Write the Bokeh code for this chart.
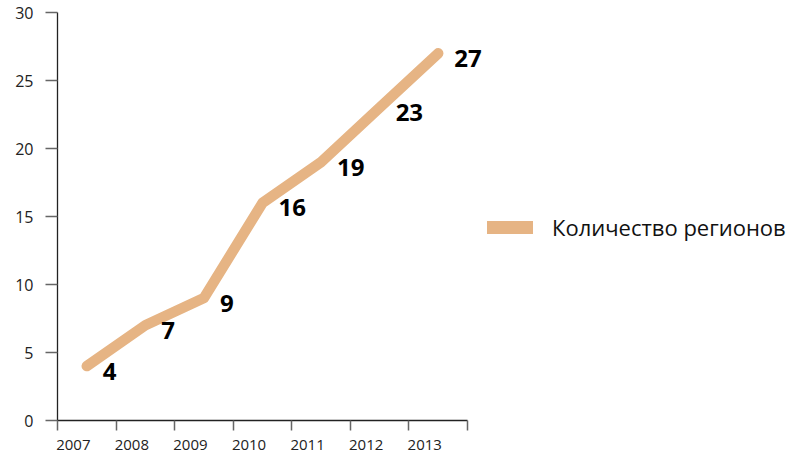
from bokeh.plotting import figure
from bokeh.models import (Range1d, FixedTicker, ColumnDataSource, Legend, LegendItem)
from bokeh.core.properties import value
from bokeh.embed import file_html
from bokeh.resources import INLINE

years = ["2007", "2008", "2009", "2010", "2011", "2012", "2013"]
regions = [4, 7, 9, 16, 19, 23, 27]
y_ticks = [0, 5, 10, 15, 20, 25, 30]
series_name = "Количество регионов"

n = len(years)
centers = [i + 0.5 for i in range(n)]
labels = [str(v) for v in regions]

FONT = "Open Sans"
LINE_COLOR = "#E6B484"

W, H = 790, 454
left, top, bottom = 57, 12, 34
frame_w = W - left
axis_px = 410.0
x_end = n * frame_w / axis_px

p = figure(width=W, height=H, output_backend="svg", toolbar_location=None,
           x_range=Range1d(0, x_end), y_range=Range1d(y_ticks[0], y_ticks[-1]),
           min_border_left=left, min_border_right=0, min_border_top=top,
           min_border_bottom=bottom)
p.outline_line_color = None
p.xgrid.visible = False
p.ygrid.visible = False
p.background_fill_color = "white"
p.border_fill_color = "white"

src = ColumnDataSource(dict(x=centers, y=regions, label=labels))
line_r = p.line("x", "y", source=src, line_color=LINE_COLOR, line_width=10.5,
                line_cap="round", line_join="round")
p.text("x", "y", text="label", source=src, text_font=value(FONT),
       text_font_style="bold", text_font_size="24px", text_color="#000000",
       text_align="left", text_baseline="middle", x_offset=16, y_offset=5)

# legend swatch (thicker line, no visible data)
leg_r = p.line(x=[centers[0]], y=[float("nan")], line_color=LINE_COLOR,
               line_width=13, line_cap="round", line_join="round")
legend = Legend(items=[LegendItem(label=series_name, renderers=[leg_r])],
                location=(430, 178), orientation="vertical",
                glyph_width=46, glyph_height=20, label_height=20,
                label_standoff=19, padding=0, margin=0, spacing=0,
                label_text_font=FONT, label_text_font_size="22px",
                label_text_color="#111111", border_line_color=None,
                background_fill_alpha=0)
p.add_layout(legend)

# x axis: boundary ticks (minor) + offset labels (major)
xa = p.xaxis[0]
maj = [round(i + 0.27, 2) for i in range(n)]
xa.ticker = FixedTicker(ticks=maj, minor_ticks=list(range(n + 1)))
xa.major_label_overrides = {m: y for m, y in zip(maj, years)}
xa.bounds = (0, n)
xa.major_tick_line_color = None
xa.major_tick_out = 10
xa.major_tick_in = 0
xa.minor_tick_out = 10
xa.minor_tick_in = 0
xa.minor_tick_line_color = "#666666"
xa.minor_tick_line_width = 1.5
xa.axis_line_color = "#222222"
xa.axis_line_width = 1.3
xa.major_label_standoff = 9
xa.major_label_text_font = FONT
xa.major_label_text_font_size = "15px"
xa.major_label_text_color = "#222222"

ya = p.yaxis[0]
ya.ticker = FixedTicker(ticks=y_ticks, minor_ticks=[])
ya.major_tick_out = 12
ya.major_tick_in = 0
ya.major_tick_line_color = "#666666"
ya.major_tick_line_width = 1.5
ya.axis_line_color = "#222222"
ya.axis_line_width = 1.3
ya.major_label_standoff = 12
ya.major_label_text_font = FONT
ya.major_label_text_font_size = "16px"
ya.major_label_text_color = "#222222"

open("out.html", "w").write(file_html(p, INLINE))
